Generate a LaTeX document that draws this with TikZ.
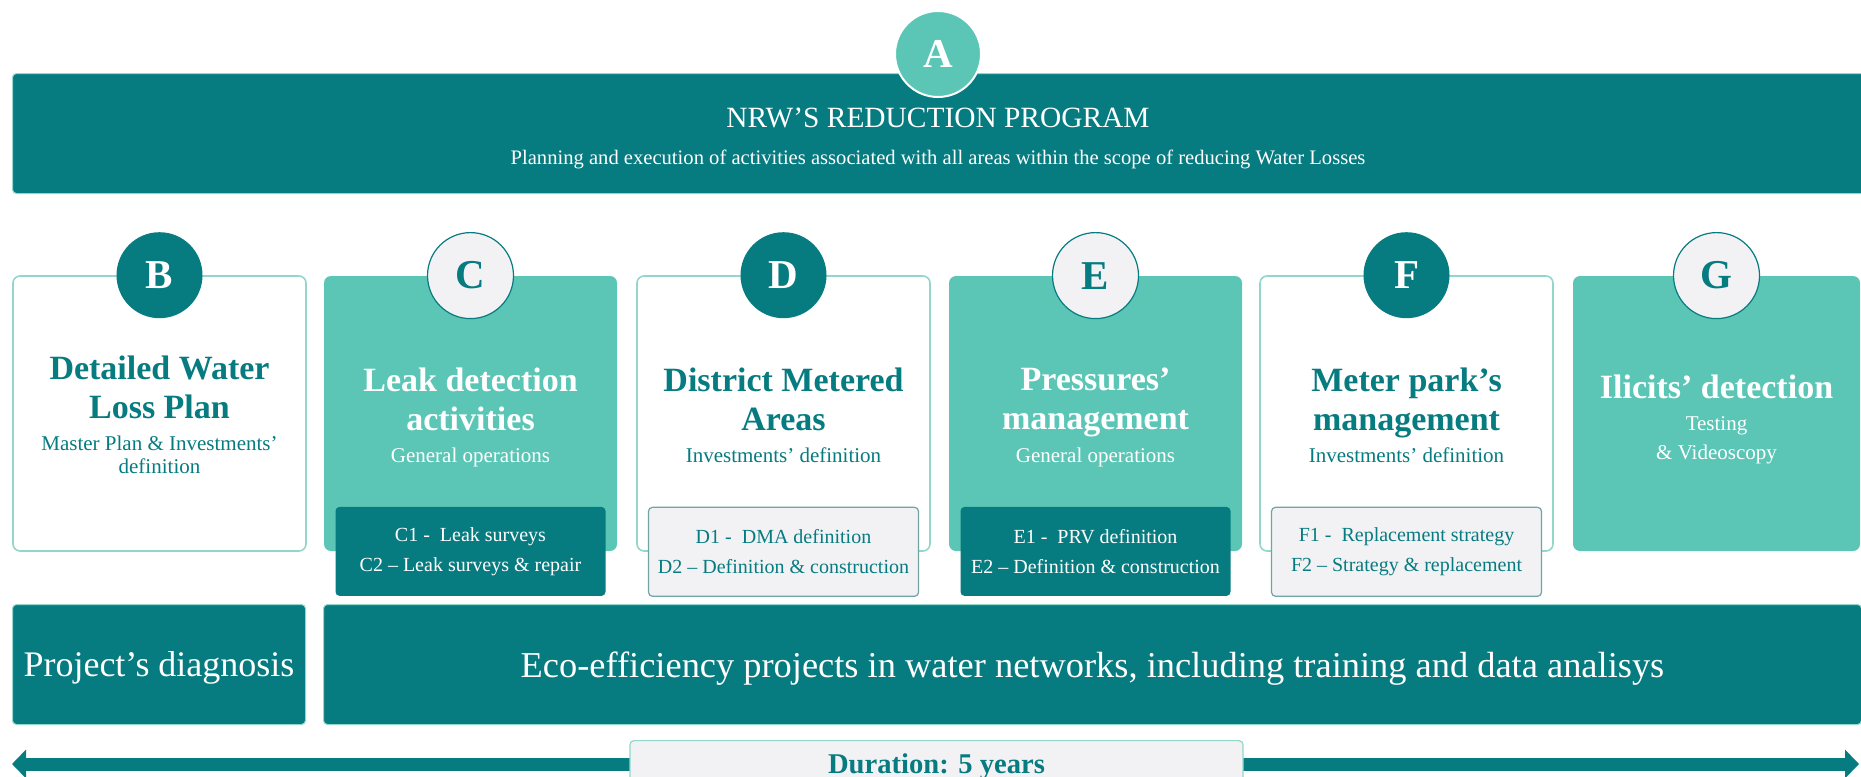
\documentclass[tikz,border=0pt]{standalone}
\usepackage{fontspec}
\setmainfont{Liberation Serif}
\usetikzlibrary{positioning,arrows.meta}

\definecolor{nrwdark}{HTML}{067B80}
\definecolor{nrwmid}{HTML}{5BC6B6}
\definecolor{nrwline}{HTML}{92D6CC}
\definecolor{nrwgrey}{HTML}{F2F2F4}
\definecolor{nrwedge}{HTML}{6FA5A5}

\tikzset{
  panel/.style={rounded corners=3.5pt, minimum width=146.5pt, minimum height=137.5pt, inner sep=0pt},
  lightpanel/.style={panel, fill=white, draw=nrwline, line width=0.8pt},
  tealpanel/.style={panel, fill=nrwmid},
  badge/.style={circle, minimum size=43pt, inner sep=0pt, font=\fontsize{20.5}{24}\selectfont\bfseries},
  darkbadge/.style={badge, fill=nrwdark, text=white},
  palebadge/.style={badge, fill=nrwgrey, draw=nrwdark, line width=0.6pt, text=nrwdark},
  subbox/.style={rounded corners=2pt, minimum width=135pt, minimum height=44.5pt, inner sep=0pt, align=center, font=\fontsize{10}{15}\selectfont},
  heading/.style={inner sep=0pt, align=center, font=\fontsize{17}{19.5}\selectfont\bfseries},
  caption/.style={inner sep=0pt, align=center, font=\fontsize{10.5}{11.5}\selectfont},
  band/.style={fill=nrwdark, draw=nrwline, line width=0.5pt, rounded corners=2pt, inner sep=0pt, text=white, text depth=-1pt, font=\fontsize{18}{21}\selectfont},
}

\begin{document}
\begin{tikzpicture}[x=0.5pt,y=-0.5pt]
  \useasboundingbox (0,0) rectangle (1861,776);

  % programme banner
  \node[band, anchor=north west, minimum width=930pt, minimum height=60pt] (banner) at (12,73) {};
  \node[badge, fill=nrwmid, draw=white, line width=1pt, text=white] (circA) at (938,54) {A};
  \node[anchor=base, inner sep=0pt, text=white, font=\fontsize{14.7}{17}\selectfont] (progTitle) at (938,127) {NRW'S REDUCTION PROGRAM};
  \node[anchor=base, inner sep=0pt, text=white, font=\fontsize{10.3}{12}\selectfont] (progText) at (938,164) {Planning and execution of activities associated with all areas within the scope of reducing Water Losses};

  % B
  \node[lightpanel] (boxB) at (159.5,413.5) {};
  \node[darkbadge] (circB) at (boxB.north) {B};
  \node[heading, text=nrwdark, below=40pt of boxB.north] (headB) {Detailed Water\\Loss Plan};
  \node[caption, text=nrwdark, below=80pt of boxB.north] (capB) {Master Plan \& Investments'\\definition};

  % C
  \node[tealpanel] (boxC) at (470.5,413.5) {};
  \node[palebadge] (circC) at (boxC.north) {C};
  \node[heading, text=white, below=46pt of boxC.north] (headC) {Leak detection\\activities};
  \node[caption, text=white, below=86pt of boxC.north] (capC) {General operations};
  \node[subbox, fill=nrwdark, text=white] (subC) at (boxC.south) {C1 -\ \ Leak surveys\\C2 -- Leak surveys \& repair};

  % D
  \node[lightpanel] (boxD) at (783.5,413.5) {};
  \node[darkbadge] (circD) at (boxD.north) {D};
  \node[heading, text=nrwdark, below=46pt of boxD.north] (headD) {District Metered\\Areas};
  \node[caption, text=nrwdark, below=86pt of boxD.north] (capD) {Investments' definition};
  \node[subbox, fill=nrwgrey, draw=nrwedge, line width=0.6pt, text=nrwdark] (subD) at (boxD.south) {D1 -\ \ DMA definition\\D2 -- Definition \& construction};

  % E
  \node[tealpanel] (boxE) at (1095.5,413.5) {};
  \node[palebadge] (circE) at (boxE.north) {E};
  \node[heading, text=white, below=46pt of boxE.north] (headE) {Pressures'\\management};
  \node[caption, text=white, below=86pt of boxE.north] (capE) {General operations};
  \node[subbox, fill=nrwdark, text=white] (subE) at (boxE.south) {E1 -\ \ PRV definition\\E2 -- Definition \& construction};

  % F
  \node[lightpanel] (boxF) at (1406.5,413.5) {};
  \node[darkbadge] (circF) at (boxF.north) {F};
  \node[heading, text=nrwdark, below=46pt of boxF.north] (headF) {Meter park's\\management};
  \node[caption, text=nrwdark, below=86pt of boxF.north] (capF) {Investments' definition};
  \node[subbox, fill=nrwgrey, draw=nrwedge, line width=0.6pt, text=nrwdark] (subF) at (boxF.south) {F1 -\ \ Replacement strategy\\F2 -- Strategy \& replacement};

  % G
  \node[tealpanel, minimum width=143.5pt] (boxG) at (1716.5,413.5) {};
  \node[palebadge] (circG) at (boxG.north) {G};
  \node[heading, text=white, below=49.5pt of boxG.north] (headG) {Ilicits' detection};
  \node[caption, text=white, font=\fontsize{10.5}{14.5}\selectfont, below=70.5pt of boxG.north] (capG) {Testing\\\& Videoscopy};

  % bottom row
  \node[band, anchor=north west, minimum width=146.5pt, minimum height=60pt] (diag) at (12,604) {Project's diagnosis};
  \node[band, anchor=north west, minimum width=769pt, minimum height=60pt, font=\fontsize{18.2}{21}\selectfont] (eco) at (323,604) {Eco-efficiency projects in water networks, including training and data analisys};

  % duration arrow
  \coordinate (spanL) at (12,764);
  \coordinate (spanR) at (1859,764);
  \draw[nrwdark, line width=6.5pt, {Triangle[length=7pt,width=14pt]}-{Triangle[length=7pt,width=14pt]}] (spanL) -- (spanR);
  \node[fill=nrwgrey, draw=nrwline, line width=0.6pt, rounded corners=2pt, anchor=north, minimum width=306.5pt, minimum height=23pt, text depth=0pt, text=nrwdark, font=\fontsize{14.3}{17}\selectfont\bfseries] (span) at (936.5,740) {Duration: 5 years};
\end{tikzpicture}
\end{document}
